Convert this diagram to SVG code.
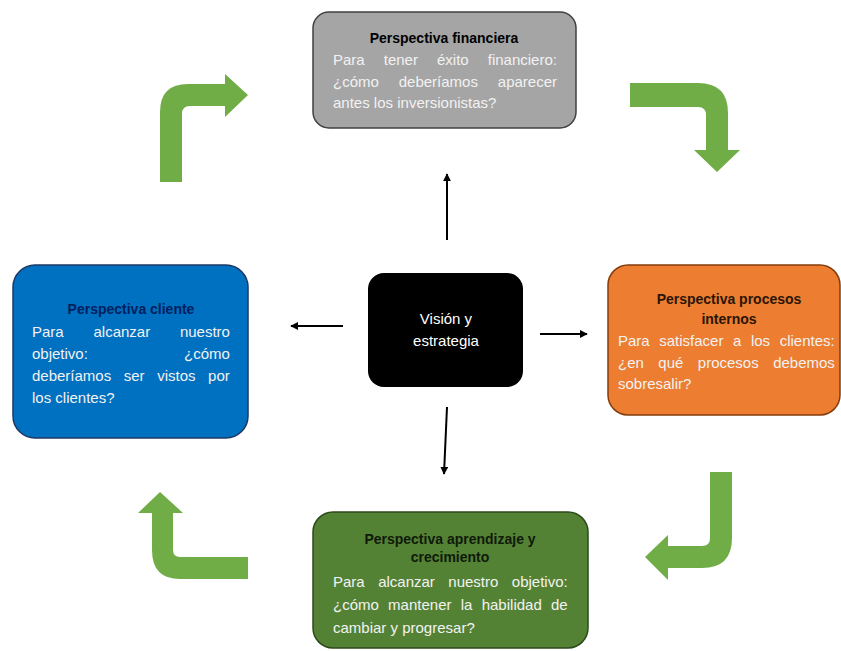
<svg xmlns="http://www.w3.org/2000/svg" width="841" height="651" viewBox="0 0 841 651">
<defs>
<style>
.t{font-family:"Liberation Sans",Arial,sans-serif;font-size:14px;font-weight:bold;text-anchor:middle}
.b{font-family:"Liberation Sans",Arial,sans-serif;font-size:15px;fill:#f2f2f2}
.conn{stroke:#000;stroke-width:2;fill:none;marker-end:url(#ah)}
.g{fill:#70ad47}
</style>
<marker id="ah" viewBox="0 0 10 10" refX="9" refY="5" markerWidth="4" markerHeight="4" orient="auto">
<path d="M0,0 L10,5 L0,10 Z" fill="#000"/>
</marker>
</defs>
<rect width="841" height="651" fill="#fff"/>

<g id="connectors">
<line class="conn" x1="447" y1="240" x2="447" y2="174"/>
<line class="conn" x1="447" y1="407" x2="444" y2="474"/>
<line class="conn" x1="343" y1="326" x2="291" y2="326"/>
<line class="conn" x1="540" y1="334" x2="587" y2="334"/>
<path class="g" d="M160,182 L160,112 Q160,84 188,84 L225,84 L225,74 L248,95 L225,117 L225,106 L190,106 Q182,106 182,114 L182,182 Z"/>
<path class="g" d="M630,83 L698,83 Q728,83 728,113 L728,150 L740,150 L717,172 L694,150 L706,150 L706,115 Q706,107 698,107 L630,107 Z"/>
<path class="g" d="M732,472 L732,538 Q732,568 702,568 L668,568 L668,580 L645,557 L668,535 L668,546 L702,546 Q710,546 710,538 L710,472 Z"/>
<path class="g" d="M248,557 L180,557 Q173,557 173,550 L173,513 L183,513 L160,492 L138,513 L152,513 L152,550 Q152,579 180,579 L248,579 Z"/>
</g>

<g id="financiera">
<rect x="313" y="12" width="263" height="116" rx="16" fill="#a5a5a5" stroke="#404040" stroke-width="1.5"/>
<text class="t" x="444" y="43" fill="#000">Perspectiva financiera</text>
<text class="b" x="333" y="65" word-spacing="14.9">Para tener éxito financiero:</text>
<text class="b" x="333" y="87" word-spacing="15.7">¿cómo deberíamos aparecer</text>
<text class="b" x="333" y="108">antes los inversionistas?</text>
</g>

<g id="cliente">
<rect x="13" y="265" width="235" height="173" rx="22" fill="#0070c0" stroke="#1f3864" stroke-width="1.5"/>
<text class="t" x="131" y="314" fill="#002060">Perspectiva cliente</text>
<text class="b" x="32" y="337" word-spacing="25.6">Para alcanzar nuestro</text>
<text class="b" x="32" y="359" word-spacing="92">objetivo: ¿cómo</text>
<text class="b" x="32" y="381" word-spacing="8.4">deberíamos ser vistos por</text>
<text class="b" x="32" y="403">los clientes?</text>
</g>

<g id="procesos">
<rect x="608" y="265" width="232" height="150" rx="20" fill="#ed7d31" stroke="#843c0c" stroke-width="1.5"/>
<text class="t" x="729" y="304" fill="#2a1505">Perspectiva procesos</text>
<text class="t" x="729" y="324" fill="#2a1505">internos</text>
<text class="b" x="618" y="346" word-spacing="5.4">Para satisfacer a los clientes:</text>
<text class="b" x="618" y="368" word-spacing="10.3">¿en qué procesos debemos</text>
<text class="b" x="618" y="389">sobresalir?</text>
</g>

<g id="aprendizaje">
<rect x="313" y="512" width="275" height="136" rx="20" fill="#548235" stroke="#2e4a1c" stroke-width="1.5"/>
<text class="t" x="450" y="544" fill="#0f1a08">Perspectiva aprendizaje y</text>
<text class="t" x="450" y="562" fill="#0f1a08">crecimiento</text>
<text class="b" x="333" y="587" word-spacing="9.3">Para alcanzar nuestro objetivo:</text>
<text class="b" x="333" y="610" word-spacing="5.1">¿cómo mantener la habilidad de</text>
<text class="b" x="333" y="633">cambiar y progresar?</text>
</g>

<g id="vision">
<rect x="368" y="273" width="155" height="114" rx="16" fill="#000"/>
<text x="446" y="324" fill="#fff" font-family="Liberation Sans, Arial, sans-serif" font-size="15" text-anchor="middle">Visión y</text>
<text x="446" y="346" fill="#fff" font-family="Liberation Sans, Arial, sans-serif" font-size="15" text-anchor="middle">estrategia</text>
</g>
</svg>
